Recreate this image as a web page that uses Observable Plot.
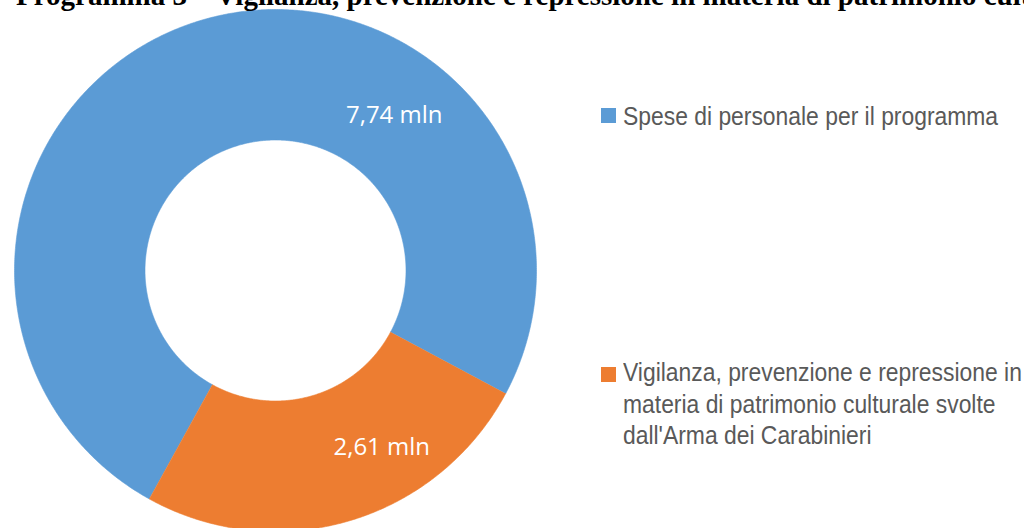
<!DOCTYPE html>
<html><head><meta charset="utf-8">
<script src="https://cdn.jsdelivr.net/npm/d3@7"></script>
<script src="https://cdn.jsdelivr.net/npm/@observablehq/plot@0.6"></script>
<style>
html,body{margin:0;padding:0;background:#fff;}
#wrap{position:relative;width:1024px;height:528px;overflow:hidden;background:#fff;}
#chart{position:absolute;left:0;top:0;}
#title{position:absolute;left:16px;top:-19px;white-space:nowrap;font-family:"Liberation Serif","Times New Roman",serif;font-weight:bold;font-size:29px;line-height:29px;color:#000;}
.sw{position:absolute;left:601px;width:15px;height:15px;}
.lt{position:absolute;left:623px;font-family:"Liberation Sans",Arial,sans-serif;font-size:25px;line-height:31.5px;color:#595959;white-space:nowrap;transform:scaleX(0.915);transform-origin:0 0;}
</style></head><body>
<div id="wrap">
  <div id="chart"></div>
  <div id="title"></div>
</div>
<script>
// ---- data ----
const titleText = "Programma 3 – Vigilanza, prevenzione e repressione in materia di patrimonio culturale";
const categories = [
  "Spese di personale per il programma",
  "Vigilanza, prevenzione e repressione in materia di patrimonio culturale svolte dall'Arma dei Carabinieri"
];
const legendLines = [
  ["Spese di personale per il programma"],
  ["Vigilanza, prevenzione e repressione in", "materia di patrimonio culturale svolte", "dall'Arma dei Carabinieri"]
];
const values = [7.74, 2.61];
const unit = "mln";
const colors = ["#5B9BD5", "#ED7D31"];

// ---- layout / drawing ----
const deg = Math.PI / 180;
const startDeg = 208.9;
const innerR = 0.5, outerR = 1;
const labelPlace = [{t: 0.70, r: 0.75}, {t: 0.34, r: 0.79}];

const table = categories.map((c, i) => ({cat: c, value: values[i]}));
const arcs = d3.pie().sort(null).value(d => d.value)
  .startAngle(startDeg * deg).endAngle(startDeg * deg + 2 * Math.PI)(table);

const pts = [];
arcs.forEach(a => {
  const n = Math.max(2, Math.ceil((a.endAngle - a.startAngle) / (0.4 * deg)));
  for (let k = 0; k <= n; k++) {
    const ang = a.startAngle + (a.endAngle - a.startAngle) * k / n;
    pts.push({cat: a.data.cat, x: outerR * Math.sin(ang), y: outerR * Math.cos(ang)});
  }
  for (let k = n; k >= 0; k--) {
    const ang = a.startAngle + (a.endAngle - a.startAngle) * k / n;
    pts.push({cat: a.data.cat, x: innerR * Math.sin(ang), y: innerR * Math.cos(ang)});
  }
});

const labels = arcs.map((a, i) => {
  const ang = a.startAngle + (a.endAngle - a.startAngle) * labelPlace[i].t;
  return {
    x: labelPlace[i].r * Math.sin(ang),
    y: labelPlace[i].r * Math.cos(ang),
    text: a.data.value.toFixed(2).replace(".", ",") + " " + unit
  };
});

const chart = Plot.plot({
  width: 1024, height: 528,
  marginTop: 0, marginRight: 0, marginBottom: 0, marginLeft: 0,
  style: {background: "transparent", overflow: "visible"},
  x: {domain: [-1, 1], range: [14, 536], axis: null},
  y: {domain: [-1, 1], range: [531, 9], axis: null},
  color: {domain: categories, range: colors},
  marks: [
    Plot.line(pts, {x: "x", y: "y", z: "cat", fill: "cat", stroke: "cat", strokeWidth: 0.6, curve: "linear"}),
    Plot.text(labels, {x: "x", y: "y", text: "text", fill: "white", fontSize: 24,
      fontFamily: "Open Sans", textAnchor: "middle"})
  ]
});
document.getElementById("chart").appendChild(chart);
document.getElementById("title").textContent = titleText;

// legend
const wrap = document.getElementById("wrap");
const legendTops = [{sq: 108, txt: 101}, {sq: 367, txt: 357}];
legendLines.forEach((lines, i) => {
  const sw = document.createElement("div");
  sw.className = "sw";
  sw.style.top = legendTops[i].sq + "px";
  sw.style.background = colors[i];
  wrap.appendChild(sw);
  const t = document.createElement("div");
  t.className = "lt";
  t.style.top = legendTops[i].txt + "px";
  t.innerHTML = lines.map(l => l.replace(/&/g, "&amp;").replace(/</g, "&lt;")).join("<br>");
  wrap.appendChild(t);
});
</script>
</body></html>
